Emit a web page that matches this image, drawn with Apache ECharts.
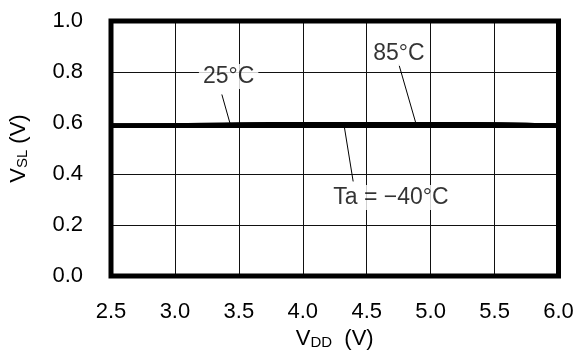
<!DOCTYPE html>
<html>
<head>
<meta charset="utf-8">
<script src="https://cdn.jsdelivr.net/npm/echarts@6/dist/echarts.min.js"></script>
<style>
html,body{margin:0;padding:0;background:#fff;}
#chart{width:579px;height:355px;}
</style>
</head>
<body>
<div id="chart"></div>
<script>
// Data
var vdd = [2.5, 3.0, 3.5, 4.0, 4.5, 5.0, 5.5, 6.0];
var vslM40 = [0.587, 0.587, 0.587, 0.587, 0.587, 0.587, 0.587, 0.587];
var vsl25  = [0.588, 0.592, 0.596, 0.597, 0.597, 0.597, 0.596, 0.590];
var vsl85  = [0.588, 0.590, 0.594, 0.596, 0.597, 0.597, 0.596, 0.590];
var xTicks = [2.5, 3.0, 3.5, 4.0, 4.5, 5.0, 5.5, 6.0];
var yTicks = [0.0, 0.2, 0.4, 0.6, 0.8, 1.0];
// Annotation labels (data coordinates) and leader lines
var annoText = ['25°C', '85°C', 'Ta = \u221240°C'];
var annoPos = [[3.42, 0.782], [4.752, 0.873], [4.689, 0.308]];
var leaderFrom = [[3.367, 0.712], [4.752, 0.829], [4.394, 0.371]];
var leaderTo = [[3.43, 0.600], [4.884, 0.600], [4.324, 0.588]];

function pairs(xs, ys){ return xs.map(function(x,i){ return [x, ys[i]]; }); }

var FONT = 'Liberation Sans, Arial, Helvetica, sans-serif';
var chart = echarts.init(document.getElementById('chart'), null, {renderer:'canvas'});

var curveStyle = {color:'#000', width:3.5};
var option = {
  animation:false,
  backgroundColor:'#fff',
  grid:{left:108.5, right:20.5, top:21, bottom:78.5, show:true, borderColor:'#000', borderWidth:5, backgroundColor:'transparent', z:10},
  xAxis:{
    type:'value', min:xTicks[0], max:xTicks[xTicks.length-1], interval:0.5,
    name:'{v|V}{s|DD}{v|  (V)}', nameLocation:'middle', nameGap:40,
    nameTextStyle:{rich:{v:{fontSize:22,fontFamily:FONT,color:'#000'}, s:{fontSize:15,fontFamily:FONT,color:'#000',verticalAlign:'bottom',padding:[7,0,0,0]}}},
    axisLine:{show:false}, axisTick:{show:false},
    axisLabel:{margin:25, fontSize:22, fontFamily:FONT, color:'#000', formatter:function(v){return v.toFixed(1);}},
    splitLine:{show:true, lineStyle:{color:'#111', width:1}}
  },
  yAxis:{
    type:'value', min:yTicks[0], max:yTicks[yTicks.length-1], interval:0.2,
    name:'{v|V}{s|SL}{v| (V)}', nameLocation:'middle', nameGap:81, nameRotate:90,
    nameTextStyle:{rich:{v:{fontSize:22,fontFamily:FONT,color:'#000'}, s:{fontSize:15,fontFamily:FONT,color:'#000',padding:[7,0,0,0]}}},
    axisLine:{show:false}, axisTick:{show:false},
    axisLabel:{margin:28, fontSize:22, fontFamily:FONT, color:'#000', formatter:function(v){return v.toFixed(1);}},
    splitLine:{show:true, lineStyle:{color:'#111', width:1}}
  },
  series:[
    {type:'line', name:'-40', data:pairs(vdd, vslM40), smooth:true, symbol:'none', lineStyle:curveStyle, z:5},
    {type:'line', name:'25', data:pairs(vdd, vsl25), smooth:true, symbol:'none', lineStyle:curveStyle, z:5},
    {type:'line', name:'85', data:pairs(vdd, vsl85), smooth:true, symbol:'none', lineStyle:curveStyle, z:5},
    {type:'line', data:[], symbol:'none', z:6,
      markLine:{silent:true, symbol:'none', animation:false,
        lineStyle:{color:'#000', width:1, type:'solid'}, label:{show:false},
        data:leaderFrom.map(function(p,i){ return [{coord:p},{coord:leaderTo[i]}]; })}
    },
    {type:'scatter', symbolSize:0, z:7,
      data:annoPos.map(function(p,i){ return {value:p, name:annoText[i]}; }),
      label:{show:true, position:'inside', formatter:function(p){return p.name;},
        fontSize:23, fontFamily:FONT, color:'#000', backgroundColor:'#fff', padding:[1,4,1,4]}
    }
  ]
};
chart.setOption(option);
</script>
</body>
</html>
